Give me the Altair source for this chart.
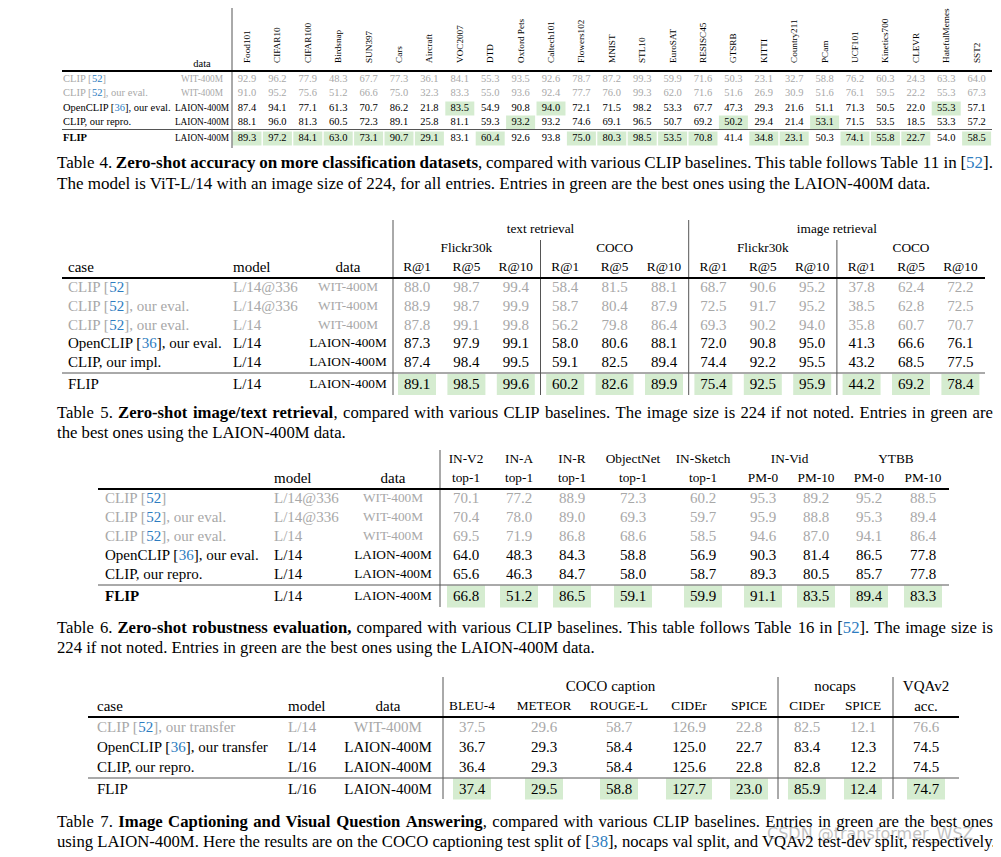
import re
import altair as alt
import pandas as pd

# ======================= DATA =======================
# ---- Table 4 ----
t4_datasets = ["Food101", "CIFAR10", "CIFAR100", "Birdsnap", "SUN397", "Cars", "Aircraft", "VOC2007", "DTD",
               "Oxford Pets", "Caltech101", "Flowers102", "MNIST", "STL10", "EuroSAT", "RESISC45", "GTSRB",
               "KITTI", "Country211", "PCam", "UCF101", "Kinetics700", "CLEVR", "HatefulMemes", "SST2"]
t4_cases = ["CLIP [52]", "CLIP [52], our eval.", "OpenCLIP [36], our eval.", "CLIP, our repro.", "FLIP"]
t4_data = ["WIT-400M", "WIT-400M", "LAION-400M", "LAION-400M", "LAION-400M"]
t4_clip = [92.9, 96.2, 77.9, 48.3, 67.7, 77.3, 36.1, 84.1, 55.3, 93.5, 92.6, 78.7, 87.2, 99.3, 59.9, 71.6, 50.3,
           23.1, 32.7, 58.8, 76.2, 60.3, 24.3, 63.3, 64.0]
t4_clip_eval = [91.0, 95.2, 75.6, 51.2, 66.6, 75.0, 32.3, 83.3, 55.0, 93.6, 92.4, 77.7, 76.0, 99.3, 62.0, 71.6,
                51.6, 26.9, 30.9, 51.6, 76.1, 59.5, 22.2, 55.3, 67.3]
t4_openclip = [87.4, 94.1, 77.1, 61.3, 70.7, 86.2, 21.8, 83.5, 54.9, 90.8, 94.0, 72.1, 71.5, 98.2, 53.3, 67.7,
               47.3, 29.3, 21.6, 51.1, 71.3, 50.5, 22.0, 55.3, 57.1]
t4_repro = [88.1, 96.0, 81.3, 60.5, 72.3, 89.1, 25.8, 81.1, 59.3, 93.2, 93.2, 74.6, 69.1, 96.5, 50.7, 69.2, 50.2,
            29.4, 21.4, 53.1, 71.5, 53.5, 18.5, 53.3, 57.2]
t4_flip = [89.3, 97.2, 84.1, 63.0, 73.1, 90.7, 29.1, 83.1, 60.4, 92.6, 93.8, 75.0, 80.3, 98.5, 53.5, 70.8, 41.4,
           34.8, 23.1, 50.3, 74.1, 55.8, 22.7, 54.0, 58.5]
t4_best_openclip = ["VOC2007", "Caltech101", "HatefulMemes"]
t4_best_repro = ["Oxford Pets", "GTSRB", "PCam"]
t4_best_flip = ["Food101", "CIFAR10", "CIFAR100", "Birdsnap", "SUN397", "Cars", "Aircraft", "DTD", "Flowers102",
                "MNIST", "STL10", "EuroSAT", "RESISC45", "KITTI", "Country211", "UCF101", "Kinetics700", "CLEVR",
                "SST2"]

# ---- Table 5 ----
t5_groups = ["text retrieval", "image retrieval"]
t5_subgroups = ["Flickr30k", "COCO", "Flickr30k", "COCO"]
t5_metrics = ["R@1", "R@5", "R@10"] * 4
t5_cases = ["CLIP [52]", "CLIP [52], our eval.", "CLIP [52], our eval.", "OpenCLIP [36], our eval.",
            "CLIP, our impl.", "FLIP"]
t5_models = ["L/14@336", "L/14@336", "L/14", "L/14", "L/14", "L/14"]
t5_data = ["WIT-400M", "WIT-400M", "WIT-400M", "LAION-400M", "LAION-400M", "LAION-400M"]
t5_clip = [88.0, 98.7, 99.4, 58.4, 81.5, 88.1, 68.7, 90.6, 95.2, 37.8, 62.4, 72.2]
t5_clip_eval336 = [88.9, 98.7, 99.9, 58.7, 80.4, 87.9, 72.5, 91.7, 95.2, 38.5, 62.8, 72.5]
t5_clip_eval = [87.8, 99.1, 99.8, 56.2, 79.8, 86.4, 69.3, 90.2, 94.0, 35.8, 60.7, 70.7]
t5_openclip = [87.3, 97.9, 99.1, 58.0, 80.6, 88.1, 72.0, 90.8, 95.0, 41.3, 66.6, 76.1]
t5_impl = [87.4, 98.4, 99.5, 59.1, 82.5, 89.4, 74.4, 92.2, 95.5, 43.2, 68.5, 77.5]
t5_flip = [89.1, 98.5, 99.6, 60.2, 82.6, 89.9, 75.4, 92.5, 95.9, 44.2, 69.2, 78.4]

# ---- Table 6 ----
t6_bench = ["IN-V2", "IN-A", "IN-R", "ObjectNet", "IN-Sketch"]
t6_video = ["IN-Vid", "YTBB"]
t6_metrics = ["top-1", "top-1", "top-1", "top-1", "top-1", "PM-0", "PM-10", "PM-0", "PM-10"]
t6_cases = ["CLIP [52]", "CLIP [52], our eval.", "CLIP [52], our eval.", "OpenCLIP [36], our eval.",
            "CLIP, our repro.", "FLIP"]
t6_models = ["L/14@336", "L/14@336", "L/14", "L/14", "L/14", "L/14"]
t6_data = ["WIT-400M", "WIT-400M", "WIT-400M", "LAION-400M", "LAION-400M", "LAION-400M"]
t6_clip = [70.1, 77.2, 88.9, 72.3, 60.2, 95.3, 89.2, 95.2, 88.5]
t6_clip_eval336 = [70.4, 78.0, 89.0, 69.3, 59.7, 95.9, 88.8, 95.3, 89.4]
t6_clip_eval = [69.5, 71.9, 86.8, 68.6, 58.5, 94.6, 87.0, 94.1, 86.4]
t6_openclip = [64.0, 48.3, 84.3, 58.8, 56.9, 90.3, 81.4, 86.5, 77.8]
t6_repro = [65.6, 46.3, 84.7, 58.0, 58.7, 89.3, 80.5, 85.7, 77.8]
t6_flip = [66.8, 51.2, 86.5, 59.1, 59.9, 91.1, 83.5, 89.4, 83.3]

# ---- Table 7 ----
t7_groups = ["COCO caption", "nocaps", "VQAv2"]
t7_metrics = ["BLEU-4", "METEOR", "ROUGE-L", "CIDEr", "SPICE", "CIDEr", "SPICE", "acc."]
t7_cases = ["CLIP [52], our transfer", "OpenCLIP [36], our transfer", "CLIP, our repro.", "FLIP"]
t7_models = ["L/14", "L/14", "L/16", "L/16"]
t7_data = ["WIT-400M", "LAION-400M", "LAION-400M", "LAION-400M"]
t7_clip = [37.5, 29.6, 58.7, 126.9, 22.8, 82.5, 12.1, 76.6]
t7_openclip = [36.7, 29.3, 58.4, 125.0, 22.7, 83.4, 12.3, 74.5]
t7_repro = [36.4, 29.3, 58.4, 125.6, 22.8, 82.8, 12.2, 74.5]
t7_flip = [37.4, 29.5, 58.8, 127.7, 23.0, 85.9, 12.4, 74.7]

# ---- captions: (text, bold) ----
cap4 = [[("Table 4. ", False), ("Zero-shot accuracy on more classification datasets", True),
         (", compared with various CLIP baselines. This table follows Table 11 in [52].", False)],
        [("The model is ViT-L/14 with an image size of 224, for all entries. Entries in green are the best ones "
          "using the LAION-400M data.", False)]]
cap5 = [[("Table 5. ", False), ("Zero-shot image/text retrieval", True),
         (", compared with various CLIP baselines. The image size is 224 if not noted. Entries in green are", False)],
        [("the best ones using the LAION-400M data.", False)]]
cap6 = [[("Table 6. ", False), ("Zero-shot robustness evaluation,", True),
         (" compared with various CLIP baselines. This table follows Table 16 in [52]. The image size is", False)],
        [("224 if not noted. Entries in green are the best ones using the LAION-400M data.", False)]]
cap7 = [[("Table 7. ", False), ("Image Captioning and Visual Question Answering", True),
         (", compared with various CLIP baselines. Entries in green are the best ones", False)],
        [("using LAION-400M. Here the results are on the COCO captioning test split of [38], nocaps val split, "
          "and VQAv2 test-dev split, respectively.", False)]]
watermark = "CSDN @transformer_WSZ"

# ======================= STYLE / LAYOUT =======================
BLACK, GRAY, BLUE, GREEN, RULE = "#000000", "#a8a8a8", "#2d7cc0", "#d5ecd0", "#555555"
SERIF = "Liberation Serif"
BODY, HEAD, CAP = 15.0, 13.3, 16.7

_up = "ABCDEFGHIJKLMNOPQRSTUVWXYZ"
_lo = "abcdefghijklmnopqrstuvwxyz"
W_REG = dict(zip(_up, [722, 667, 667, 722, 611, 556, 722, 722, 333, 389, 722, 611, 889, 722, 722, 556, 722, 667,
                       556, 611, 722, 722, 944, 722, 722, 611]))
W_REG.update(zip(_lo, [444, 500, 444, 500, 444, 333, 500, 500, 278, 278, 500, 278, 778, 500, 500, 500, 500, 333,
                       389, 278, 500, 500, 722, 500, 500, 444]))
W_REG.update({" ": 250, ",": 250, ".": 250, "-": 333, "/": 278, ":": 278, ";": 278, "@": 921, "[": 333, "]": 333,
              "(": 333, ")": 333, "_": 500})
W_BOLD = dict(zip(_up, [722, 667, 722, 722, 667, 611, 778, 778, 389, 500, 778, 667, 944, 722, 778, 611, 778, 722,
                        556, 667, 722, 722, 1000, 722, 722, 667]))
W_BOLD.update(zip(_lo, [500, 556, 444, 556, 444, 333, 500, 556, 278, 333, 556, 278, 833, 556, 500, 556, 556, 444,
                        389, 333, 556, 500, 722, 500, 500, 444]))
W_BOLD.update({" ": 250, ",": 250, ".": 250, "-": 333, "/": 278, ":": 333, ";": 333, "@": 930, "[": 333, "]": 333,
               "(": 333, ")": 333, "_": 500})

texts, rules, boxes = [], [], []


def add_text(x, y, text, size, color=BLACK, weight="normal", align="center", angle=0, font=SERIF, opacity=1.0):
    texts.append(dict(x=x, y=y, text=text, size=size, color=color, weight=weight, align=align,
                      angle=angle, font=font, opacity=opacity))


def add_rule(x, x2, y, y2, w=1.0, color=RULE):
    rules.append(dict(x=x, x2=x2, y=y, y2=y2, w=w, color=color))


def add_box(xc, yc, w, h):
    boxes.append(dict(x=xc - w / 2, x2=xc + w / 2, y=yc - h / 2, y2=yc + h / 2))


def cite_runs(text, weight="normal", color=BLACK):
    runs = []
    for part in re.split(r"(\[\d+\])", text):
        if not part:
            continue
        m = re.fullmatch(r"\[(\d+)\]", part)
        if m:
            runs += [("[", weight, color), (m.group(1), weight, BLUE), ("]", weight, color)]
        else:
            runs.append((part, weight, color))
    return runs


def char_w(ch, weight, size):
    return (W_BOLD if weight == "bold" else W_REG).get(ch, 500) * size / 1000.0


def place_runs(runs, x0, y, size, justify_to=None):
    chars = [(c, w, col) for t, w, col in runs for c in t]
    split_words = justify_to is not None
    extra = 0.0
    if split_words:
        natural = sum(char_w(c, w, size) for c, w, _ in chars)
        nsp = sum(1 for c, _, _ in chars if c == " ")
        if nsp:
            extra = (justify_to - x0 - natural) / nsp
    x, cur = x0, None
    for c, w, col in chars:
        if c == " " and (split_words or cur is None or cur["weight"] != w or cur["color"] != col):
            cur = None
            x += char_w(c, w, size) + (extra if split_words else 0)
            continue
        if cur is None or cur["weight"] != w or cur["color"] != col:
            cur = dict(x=x, y=y, text="", size=size, color=col, weight=w, align="left", angle=0,
                       font=SERIF, opacity=1.0)
            texts.append(cur)
        cur["text"] += c
        x += char_w(c, w, size)


def fmt(v):
    return f"{v:.1f}"


# ---------------- Table 4 ----------------
T4_LABEL_X, T4_DATA_X = 63, 202
T4_COL_X = [247 + 30.4 * i for i in range(len(t4_datasets))]
T4_ROW_Y = [79, 93, 108, 122, 138]
add_text(T4_DATA_X, 64, "data", 10.5)
for cx, name in zip(T4_COL_X, t4_datasets):
    add_text(cx, 63, name, 9.2, align="left", angle=270)
t4_rows = [t4_clip, t4_clip_eval, t4_openclip, t4_repro, t4_flip]
t4_best = [[], [], t4_best_openclip, t4_best_repro, t4_best_flip]
for y, case, data, vals, best in zip(T4_ROW_Y, t4_cases, t4_data, t4_rows, t4_best):
    col = GRAY if data == "WIT-400M" else BLACK
    place_runs(cite_runs(case, "bold" if case == "FLIP" else "normal", col), T4_LABEL_X, y, 10.5)
    add_text(T4_DATA_X, y, data, 9.3, col)
    for cx, ds, v in zip(T4_COL_X, t4_datasets, vals):
        if ds in best:
            add_box(cx, y + 0.5, 29, 14)
        add_text(cx, y, fmt(v), 10.5, col)
add_rule(232, 232, 8, 148)
add_rule(62, 992, 71, 71, 1.8, BLACK)
add_rule(62, 992, 129.5, 129.5, 1.0)

# ---------------- Table 5 ----------------
T5_LABEL_X, T5_MODEL_X, T5_DATA_X = 68, 233, 348
T5_COL_X = [417 + 49.4 * i for i in range(12)]
T5_ROW_Y = [287, 306, 325, 343, 362, 384]
for g, name in enumerate(t5_groups):
    add_text((T5_COL_X[6 * g] + T5_COL_X[6 * g + 5]) / 2, 229, name, HEAD)
for g, name in enumerate(t5_subgroups):
    add_text((T5_COL_X[3 * g] + T5_COL_X[3 * g + 2]) / 2, 248, name, HEAD)
add_text(T5_LABEL_X, 267, "case", BODY, align="left")
add_text(T5_MODEL_X, 267, "model", BODY, align="left")
add_text(T5_DATA_X, 267, "data", BODY)
for cx, m in zip(T5_COL_X, t5_metrics):
    add_text(cx, 267, m, HEAD)
t5_rows = [t5_clip, t5_clip_eval336, t5_clip_eval, t5_openclip, t5_impl, t5_flip]
for y, case, model, data, vals in zip(T5_ROW_Y, t5_cases, t5_models, t5_data, t5_rows):
    col = GRAY if data == "WIT-400M" else BLACK
    place_runs(cite_runs(case, "normal", col), T5_LABEL_X, y, BODY)
    add_text(T5_MODEL_X, y, model, BODY, col, align="left")
    add_text(T5_DATA_X, y, data, HEAD, col)
    for cx, v in zip(T5_COL_X, vals):
        if case == "FLIP":
            add_box(cx, y + 0.5, 38, 21)
        add_text(cx, y, fmt(v), BODY, col)
add_rule(393, 393, 220, 395)
add_rule((T5_COL_X[5] + T5_COL_X[6]) / 2, (T5_COL_X[5] + T5_COL_X[6]) / 2, 220, 395)
add_rule((T5_COL_X[2] + T5_COL_X[3]) / 2, (T5_COL_X[2] + T5_COL_X[3]) / 2, 240, 395)
add_rule((T5_COL_X[8] + T5_COL_X[9]) / 2, (T5_COL_X[8] + T5_COL_X[9]) / 2, 240, 395)
add_rule(62, 985, 278, 278, 1.8, BLACK)
add_rule(62, 985, 373, 373, 1.0)

# ---------------- Table 6 ----------------
T6_LABEL_X, T6_MODEL_X, T6_DATA_X = 105, 274, 393
T6_COL_X = [466, 519, 572, 633, 703, 763, 816, 869, 923]
T6_ROW_Y = [498, 517, 536, 555, 574, 596]
for cx, name in zip(T6_COL_X, t6_bench):
    add_text(cx, 459, name, HEAD)
for g, name in enumerate(t6_video):
    add_text((T6_COL_X[5 + 2 * g] + T6_COL_X[6 + 2 * g]) / 2, 459, name, HEAD)
add_text(T6_MODEL_X, 478, "model", BODY, align="left")
add_text(T6_DATA_X, 478, "data", BODY)
for cx, m in zip(T6_COL_X, t6_metrics):
    add_text(cx, 478, m, HEAD)
t6_rows = [t6_clip, t6_clip_eval336, t6_clip_eval, t6_openclip, t6_repro, t6_flip]
for y, case, model, data, vals in zip(T6_ROW_Y, t6_cases, t6_models, t6_data, t6_rows):
    col = GRAY if data == "WIT-400M" else BLACK
    place_runs(cite_runs(case, "bold" if case == "FLIP" else "normal", col), T6_LABEL_X, y, BODY)
    add_text(T6_MODEL_X, y, model, BODY, col, align="left")
    add_text(T6_DATA_X, y, data, HEAD, col)
    for cx, v in zip(T6_COL_X, vals):
        if case == "FLIP":
            add_box(cx, y + 0.5, 38, 22)
        add_text(cx, y, fmt(v), BODY, col)
add_rule(440, 440, 450, 607)
add_rule(98, 949, 489, 489, 1.8, BLACK)
add_rule(98, 949, 585, 585, 1.0)

# ---------------- Table 7 ----------------
T7_LABEL_X, T7_MODEL_X, T7_DATA_X = 97, 288, 388
T7_COL_X = [472, 544, 619, 689, 749, 807, 863, 926]
T7_ROW_Y = [727, 747, 767, 789]
T7_GROUP_SPAN = [(0, 4), (5, 6), (7, 7)]
T7_METRIC_SIZE = [HEAD] * 7 + [BODY]
for (a, b), name in zip(T7_GROUP_SPAN, t7_groups):
    add_text((T7_COL_X[a] + T7_COL_X[b]) / 2, 686, name, BODY)
add_text(T7_LABEL_X, 706, "case", BODY, align="left")
add_text(T7_MODEL_X, 706, "model", BODY, align="left")
add_text(T7_DATA_X, 706, "data", BODY)
for cx, m, s in zip(T7_COL_X, t7_metrics, T7_METRIC_SIZE):
    add_text(cx, 706, m, s)
t7_rows = [t7_clip, t7_openclip, t7_repro, t7_flip]
for y, case, model, data, vals in zip(T7_ROW_Y, t7_cases, t7_models, t7_data, t7_rows):
    col = GRAY if data == "WIT-400M" else BLACK
    place_runs(cite_runs(case, "normal", col), T7_LABEL_X, y, BODY)
    add_text(T7_MODEL_X, y, model, BODY, col, align="left")
    add_text(T7_DATA_X, y, data, BODY, col)
    for cx, v in zip(T7_COL_X, vals):
        if case == "FLIP":
            add_box(cx, y, 38 if len(fmt(v)) <= 4 else 46, 21)
        add_text(cx, y, fmt(v), BODY, col)
for vx in [443, 778, 893]:
    add_rule(vx, vx, 677, 799)
add_rule(88, 959, 717, 717, 1.8, BLACK)
add_rule(88, 959, 778, 778, 1.0)

# ---------------- captions ----------------
CAP_X0, CAP_X1 = 57, 993
for cap, (y1, y2), csize in [(cap4, (163, 184), 17.0), (cap5, (413, 433), CAP),
                             (cap6, (628, 648), CAP), (cap7, (822, 842), CAP)]:
    for line, y, just in [(cap[0], y1, CAP_X1), (cap[1], y2, None)]:
        runs = []
        for text, bold in line:
            runs += cite_runs(text, "bold" if bold else "normal", BLACK)
        place_runs(runs, CAP_X0, y, csize, justify_to=just)
add_text(767, 834, watermark, 16, "#777777", align="left", font="DejaVu Sans", opacity=0.45)

# ======================= CHART =======================
xs = alt.Scale(domain=[8, 993], nice=False, zero=False)
ys = alt.Scale(domain=[8, 857], reverse=True, nice=False, zero=False)

layers = []
layers.append(
    alt.Chart(pd.DataFrame(boxes)).mark_rect(color=GREEN).encode(
        x=alt.X("x:Q", scale=xs, axis=None), x2="x2:Q",
        y=alt.Y("y:Q", scale=ys, axis=None), y2="y2:Q"))
layers.append(
    alt.Chart(pd.DataFrame(rules)).mark_rule(strokeCap="butt").encode(
        x=alt.X("x:Q", scale=xs, axis=None), x2="x2:Q",
        y=alt.Y("y:Q", scale=ys, axis=None), y2="y2:Q",
        strokeWidth=alt.StrokeWidth("w:Q", scale=None, legend=None),
        color=alt.Color("color:N", scale=None, legend=None)))

tdf = pd.DataFrame(texts)
for (weight, align, angle, font), g in tdf.groupby(["weight", "align", "angle", "font"]):
    layers.append(
        alt.Chart(g.reset_index(drop=True)).mark_text(
            baseline="middle", align=str(align), angle=float(angle), fontWeight=str(weight), font=str(font)
        ).encode(
            x=alt.X("x:Q", scale=xs, axis=None),
            y=alt.Y("y:Q", scale=ys, axis=None),
            text="text:N",
            size=alt.Size("size:Q", scale=None, legend=None),
            color=alt.Color("color:N", scale=None, legend=None),
            opacity=alt.Opacity("opacity:Q", scale=None, legend=None)))

chart = alt.layer(*layers).properties(
    width=985, height=849, padding=0, autosize=alt.AutoSizeParams(type="none"), background="white"
).configure_view(stroke=None)

chart.save("out.html", embed_options={"renderer": "svg", "actions": False})
